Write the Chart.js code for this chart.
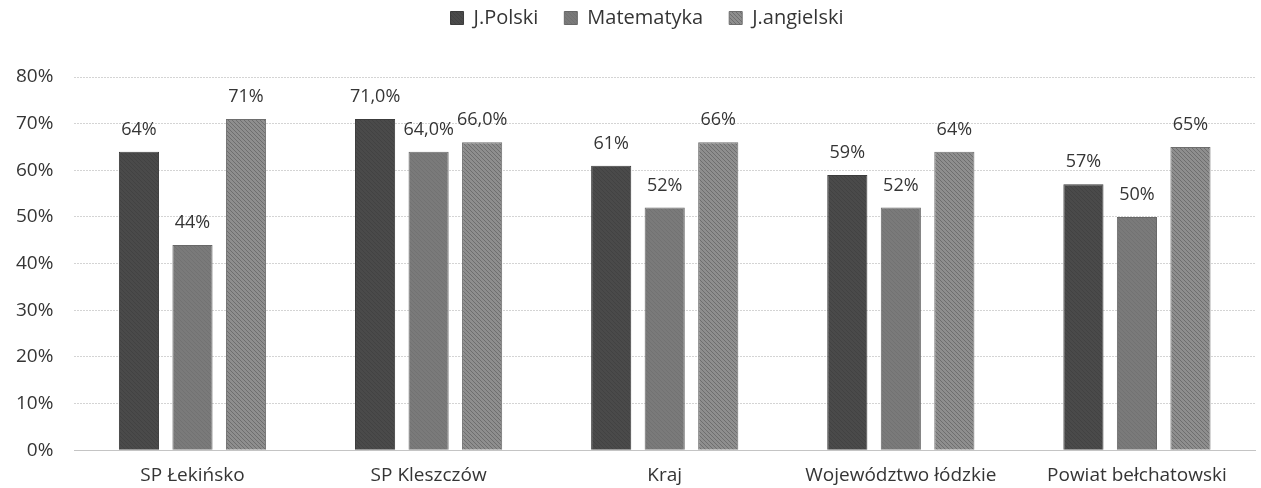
<!DOCTYPE html>
<html><head><meta charset="utf-8">
<script src="https://cdn.jsdelivr.net/npm/chart.js@4.4.1/dist/chart.umd.min.js"></script>
<style>html,body{margin:0;padding:0;background:#fff;}#wrap{width:1261px;height:488px;}</style>
</head><body><div id="wrap"><canvas id="c" width="1261" height="488"></canvas></div>
<script>
const categories = ['SP Łekińsko', 'SP Kleszczów', 'Kraj', 'Województwo łódzkie', 'Powiat bełchatowski'];
const seriesNames = ['J.Polski', 'Matematyka', 'J.angielski'];
const polski = [64, 71, 61, 59, 57];
const matematyka = [44, 64, 52, 52, 50];
const angielski = [71, 66, 66, 64, 65];
const polskiLabels = ['64%', '71,0%', '61%', '59%', '57%'];
const matematykaLabels = ['44%', '64,0%', '52%', '52%', '50%'];
const angielskiLabels = ['71%', '66,0%', '66%', '64%', '65%'];
const yTicks = [0, 10, 20, 30, 40, 50, 60, 70, 80];

const FONT = '"Open Sans", sans-serif';
function hatch(base, line) {
  const p = document.createElement('canvas');
  p.width = 4; p.height = 4;
  const g = p.getContext('2d');
  g.fillStyle = base; g.fillRect(0, 0, 4, 4);
  g.strokeStyle = line; g.lineWidth = 1;
  g.beginPath(); g.moveTo(0, 0); g.lineTo(4, 4); g.stroke();
  return g.createPattern(p, 'repeat');
}
const ctx = document.getElementById('c').getContext('2d');
const fills = [hatch('#4a4a4a', '#424242'), hatch('#7a7a7a', '#727272'), hatch('#8e8e8e', '#6e6e6e')];
const labelSets = [polskiLabels, matematykaLabels, angielskiLabels];

const valueLabels = {
  id: 'valueLabels',
  afterDatasetsDraw(chart) {
    const c = chart.ctx;
    c.save();
    c.font = '18px ' + FONT;
    c.fillStyle = '#353535';
    c.textAlign = 'center';
    c.textBaseline = 'middle';
    chart.data.datasets.forEach((ds, i) => {
      chart.getDatasetMeta(i).data.forEach((bar, j) => {
        c.fillText(labelSets[i][j], bar.x, bar.y - 22);
      });
    });
    c.restore();
  }
};
const legendSpace = {
  id: 'legendSpace',
  beforeInit(chart) {
    const orig = chart.legend.fit;
    chart.legend.fit = function () { orig.call(this); this.height = 95; };
  },
  afterLayout(chart) {
    chart.legend.left += 44;
  }
};

new Chart(ctx, {
  type: 'bar',
  data: {
    labels: categories,
    datasets: [
      { label: seriesNames[0], data: polski, backgroundColor: fills[0], borderColor: '#3c3c3c', borderWidth: 1 },
      { label: seriesNames[1], data: matematyka, backgroundColor: fills[1], borderColor: '#686868', borderWidth: 1 },
      { label: seriesNames[2], data: angielski, backgroundColor: fills[2], borderColor: '#6e6e6e', borderWidth: 1 }
    ]
  },
  options: {
    responsive: false,
    animation: false,
    layout: { padding: { left: -5, right: 6, top: -18, bottom: -13 } },
    datasets: { bar: { categoryPercentage: 0.68, barPercentage: 0.75 } },
    plugins: {
      legend: {
        position: 'top',
        labels: { boxWidth: 13, boxHeight: 13, color: '#353535', font: { family: FONT, size: 20 }, padding: 26 }
      },
      tooltip: { enabled: false }
    },
    scales: {
      x: {
        grid: { display: false, drawTicks: false },
        border: { color: '#c4c4c4' },
        ticks: { color: '#353535', font: { family: FONT, size: 19 }, padding: 14, maxRotation: 0 }
      },
      y: {
        min: 0, max: 80,
        afterBuildTicks(axis) { axis.ticks = yTicks.map(v => ({ value: v })); },
        grid: { color: '#d4d4d4', drawTicks: false },
        border: { display: false, dash: [2, 1] },
        ticks: { color: '#353535', font: { family: FONT, size: 19 }, padding: 21, callback: v => v + '%' }
      }
    }
  },
  plugins: [valueLabels, legendSpace]
});
</script></body></html>
